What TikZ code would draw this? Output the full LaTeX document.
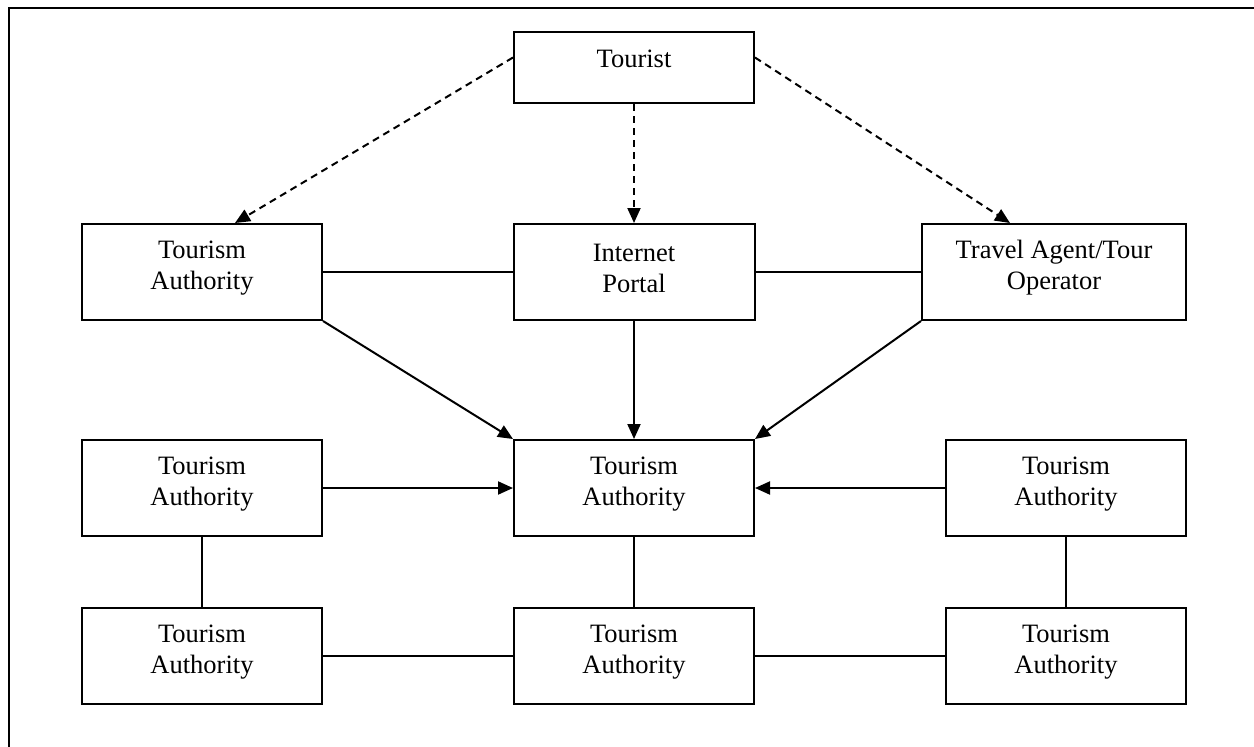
\documentclass[tikz,border=0pt]{standalone}
\usepackage{fontspec}
\setmainfont{Liberation Serif}
\usetikzlibrary{arrows.meta}
\begin{document}
\begin{tikzpicture}[x=1pt,y=-1pt,
  box/.style={draw,line width=2pt,minimum width=240pt,minimum height=96pt,inner sep=0pt},
  txt/.style={font=\fontsize{26.5}{31}\selectfont,align=center,inner sep=0pt},
  conn/.style={line width=2pt},
  arr/.style={conn,-{Triangle[length=15pt,width=13pt]}},
  dsh/.style={arr,dash pattern=on 7pt off 5pt}]
\useasboundingbox (0,0) rectangle (1254,747);
\draw[line width=2pt] (9,747) -- (9,8) -- (1254,8);
% boxes
\node[box,minimum height=71pt] (tourist) at (634,67.5) {};
\node[box] (ta1) at (202,272) {};
\node[box,minimum width=241pt] (ip) at (634,272) {};
\node[box,minimum width=264pt] (tr) at (1054,272) {};
\node[box] (ta2) at (202,488) {};
\node[box] (tac) at (634,488) {};
\node[box] (ta3) at (1066,488) {};
\node[box] (ta4) at (202,656) {};
\node[box] (ta5) at (634,656) {};
\node[box] (ta6) at (1066,656) {};
% texts
\node[txt] at ([yshift=8.5pt]tourist.center) {Tourist};
\node[txt] at ([yshift=4pt]ta1.center) {Tourism\\Authority};
\node[txt] at ([yshift=4pt]ip.center) {Internet\\Portal};
\node[txt] at ([yshift=4pt]tr.center) {Travel Agent/Tour\\Operator};
\node[txt] at ([yshift=4pt]ta2.center) {Tourism\\Authority};
\node[txt] at ([yshift=4pt]tac.center) {Tourism\\Authority};
\node[txt] at ([yshift=4pt]ta3.center) {Tourism\\Authority};
\node[txt] at ([yshift=4pt]ta4.center) {Tourism\\Authority};
\node[txt] at ([yshift=4pt]ta5.center) {Tourism\\Authority};
\node[txt] at ([yshift=4pt]ta6.center) {Tourism\\Authority};
% dashed connectors
\draw[dsh] ([yshift=10pt]tourist.west) -- ([xshift=33pt]ta1.north);
\draw[dsh] (tourist.south) -- (ip.north);
\draw[dsh] ([yshift=10pt]tourist.east) -- ([xshift=-44pt]tr.north);
% lines row 2
\draw[conn] (ta1.east) -- (ip.west);
\draw[conn] (ip.east) -- (tr.west);
% arrows to centre
\draw[arr] (ta1.south east) -- (tac.north west);
\draw[arr] (ip.south) -- (tac.north);
\draw[arr] (tr.south west) -- (tac.north east);
\draw[arr] (ta2.east) -- (tac.west);
\draw[arr] (ta3.west) -- (tac.east);
% verticals
\draw[conn] (ta2.south) -- (ta4.north);
\draw[conn] (tac.south) -- (ta5.north);
\draw[conn] (ta3.south) -- (ta6.north);
% bottom row
\draw[conn] (ta4.east) -- (ta5.west);
\draw[conn] (ta5.east) -- (ta6.west);
\end{tikzpicture}
\end{document}
